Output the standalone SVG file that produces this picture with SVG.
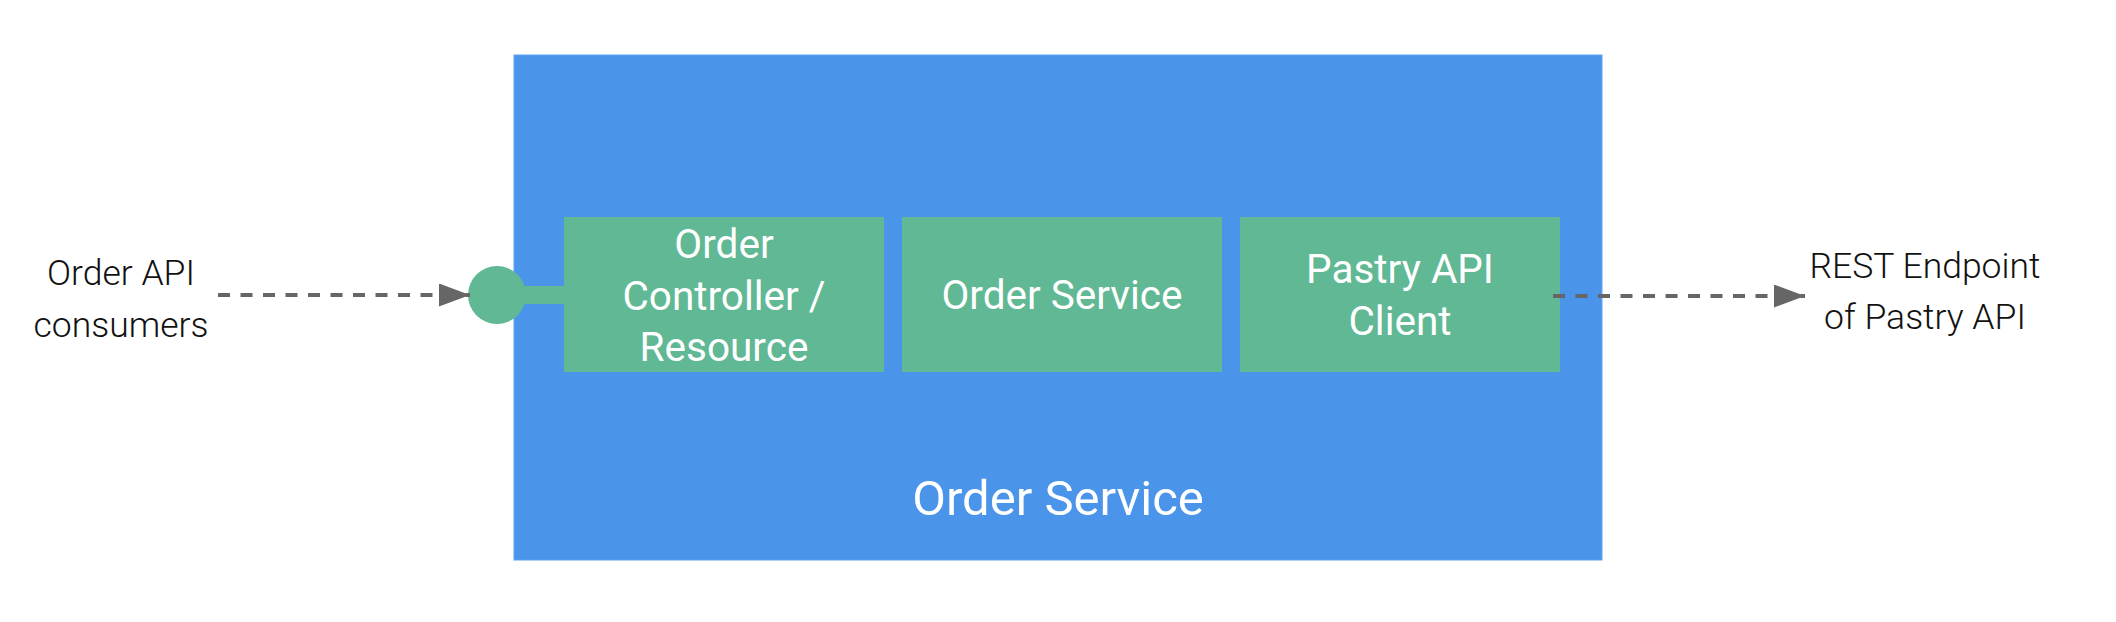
<svg xmlns="http://www.w3.org/2000/svg" width="2116" height="622" viewBox="0 0 2116 622">
  <style>
    .container { fill: #4a94ea; stroke: #5fa3f0; stroke-width: 1; }
    .comp { fill: #60b894; }
    .inner { font-family: Roboto, "Liberation Sans", sans-serif; font-size: 40.5px; font-weight: 400; fill: #ffffff; text-anchor: middle; }
    .title { font-family: Roboto, "Liberation Sans", sans-serif; font-size: 49px; font-weight: 400; fill: #ffffff; text-anchor: middle; }
    .outer { font-family: Roboto, "Liberation Sans", sans-serif; font-size: 35.5px; font-weight: 300; fill: #111111; text-anchor: middle; }
    .dash { stroke: #666666; stroke-width: 4; stroke-dasharray: 12 10.5; fill: none; }
  </style>
  <defs>
    <marker id="arrow" markerUnits="userSpaceOnUse" markerWidth="32" markerHeight="24" refX="31" refY="11.5" orient="auto">
      <path d="M0,0 L31,11.5 L0,23 Z" fill="#666666"/>
    </marker>
  </defs>
  <rect width="2116" height="622" fill="#ffffff"/>

  <g id="order-service">
    <rect class="container" x="514" y="55" width="1088" height="505"/>
    <text class="title" x="1058" y="515">Order Service</text>
  </g>

  <g id="order-controller">
    <rect class="comp" x="564" y="217" width="320" height="155"/>
    <text class="inner" x="724" y="258">Order</text>
    <text class="inner" x="724" y="310">Controller /</text>
    <text class="inner" x="724" y="361">Resource</text>
  </g>

  <g id="order-service-component">
    <rect class="comp" x="902" y="217" width="320" height="155"/>
    <text class="inner" x="1062" y="309">Order Service</text>
  </g>

  <g id="pastry-api-client">
    <rect class="comp" x="1240" y="217" width="320" height="155"/>
    <text class="inner" x="1400" y="283">Pastry API</text>
    <text class="inner" x="1400" y="335">Client</text>
  </g>

  <g id="api-port">
    <rect class="comp" x="518" y="286" width="48" height="18"/>
    <circle class="comp" cx="497" cy="295" r="29"/>
  </g>

  <g id="order-api-consumers">
    <text class="outer" x="121" y="285">Order API</text>
    <text class="outer" x="121" y="337">consumers</text>
  </g>

  <g id="rest-endpoint-pastry-api">
    <text class="outer" x="1925" y="278">REST Endpoint</text>
    <text class="outer" x="1925" y="329">of Pastry API</text>
  </g>

  <g id="connectors">
    <line class="dash" x1="218" y1="295" x2="470" y2="295" marker-end="url(#arrow)"/>
    <line class="dash" x1="1553" y1="296" x2="1805" y2="296" marker-end="url(#arrow)"/>
  </g>
</svg>
